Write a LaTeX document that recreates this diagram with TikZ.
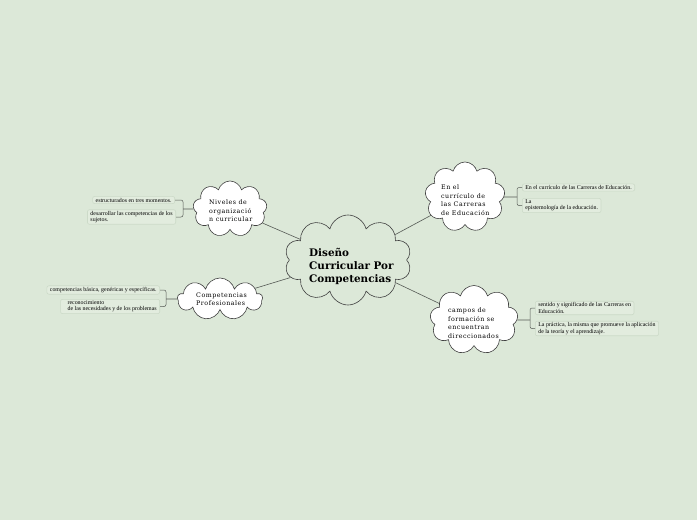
\documentclass[tikz,border=0pt]{standalone}
\usepackage{fontspec}
\setmainfont{Liberation Serif}
\newfontfamily\slab[LetterSpace=8]{DejaVu Serif}
\newfontfamily\slabb{DejaVu Serif}
\usetikzlibrary{shapes.symbols}
\definecolor{bg}{RGB}{220,232,216}
\definecolor{leaffill}{RGB}{226,236,222}
\definecolor{leafline}{RGB}{204,218,200}
\definecolor{wire}{RGB}{85,90,85}
\tikzset{
  main/.style={cloud, cloud puffs=10, draw=black!75, line width=0.6pt, fill=bg,
    minimum width=127pt, minimum height=90pt, aspect=1.41, inner sep=0pt},
  maintxt/.style={anchor=west, inner sep=0pt, align=left,
    font=\slabb\bfseries\fontsize{10.4}{13}\selectfont},
  sub/.style={cloud, cloud puffs=9, draw=black!75, line width=0.6pt, fill=white, inner sep=0pt},
  subtxt/.style={anchor=west, inner sep=0pt, align=left, font=\slab\fontsize{6.3}{8.5}\selectfont},
  leaf/.style={rectangle, rounded corners=2pt, draw=leafline, fill=leaffill, line width=0.6pt,
    inner xsep=3pt, inner ysep=1.5pt, align=left, font=\fontsize{5.9}{6.2}\selectfont},
  wire/.style={draw=wire, line width=0.6pt},
  brace/.style={draw=wire, line width=0.5pt, rounded corners=2pt}
}
\begin{document}
\begin{tikzpicture}[x=1pt,y=-1pt]
\useasboundingbox (0,0) rectangle (697,520);
\fill[bg] (0,0) rectangle (697,520);

\node[main] (c) at (348,260) {};
\node[sub, minimum width=74pt, minimum height=56pt, aspect=1.32] (niv) at (230,209) {};
\node[sub, minimum width=85pt, minimum height=42pt, aspect=2.0] (com) at (220,299) {};
\node[sub, minimum width=80pt, minimum height=70pt, aspect=1.14] (cur) at (465,197) {};
\node[sub, minimum width=88pt, minimum height=69pt, aspect=1.28] (cam) at (474,320) {};

\node[maintxt] (ct) at (309,266) {Diseño\\Curricular Por\\Competencias};
\node[subtxt] (nivt) at (209,211) {Niveles de\\organizació\\n curricular};
\node[subtxt] (comt) at (196,299) {Competencias\\Profesionales};
\node[subtxt] (curt) at (441,200) {En el\\currículo de\\las Carreras\\de Educación};
\node[subtxt] (camt) at (448,323) {campos de\\formación se\\encuentran\\direccionados};

\draw[wire] (c) -- (niv);
\draw[wire] (c) -- (com);
\draw[wire] (c) -- (cur);
\draw[wire] (c) -- (cam);

% Niveles leaves
\node[leaf, anchor=east] (n1) at (175,200) {estructurados en tres momentos.};
\node[leaf, anchor=east] (n2) at (176,217) {desarrollar las competencias de los\\sujetos.};
\coordinate (jn) at (183,209);
\draw[wire] (niv.west) -- (jn);
\draw[brace] (n1.east) -- (n1.east -| jn) -- (n2.east -| jn) -- (n2.east);

% Competencias leaves
\node[leaf, anchor=east] (p1) at (160,290) {competencias básica, genéricas y específicas.};
\node[leaf, anchor=east] (p2) at (160,306.5) {\hspace*{4pt}reconocimiento\\\hspace*{4pt}de las necesidades y de los problemas};
\coordinate (jc) at (166,299);
\draw[wire] (com.west) -- (jc);
\draw[brace] (p1.east) -- (p1.east -| jc) -- (p2.east -| jc) -- (p2.east);

% Curriculo leaves
\node[leaf, anchor=west] (e1) at (522,187.5) {En el currículo de las Carreras de Educación.};
\node[leaf, anchor=west] (e2) at (522,205.5) {La\\epistemología de la educación.};
\coordinate (je) at (517,197);
\draw[wire] (cur.east) -- (je);
\draw[brace] (e1.west) -- (e1.west -| je) -- (e2.west -| je) -- (e2.west);

% Campos leaves
\node[leaf, anchor=west] (k1) at (535,308) {sentido y significado de las Carreras en\\Educación.};
\node[leaf, anchor=west] (k2) at (535,328.5) {La práctica, la misma que promueve la aplicación\\de la teoría y el aprendizaje.};
\coordinate (jk) at (530,320);
\draw[wire] (cam.east) -- (jk);
\draw[brace] (k1.west) -- (k1.west -| jk) -- (k2.west -| jk) -- (k2.west);
\end{tikzpicture}
\end{document}
